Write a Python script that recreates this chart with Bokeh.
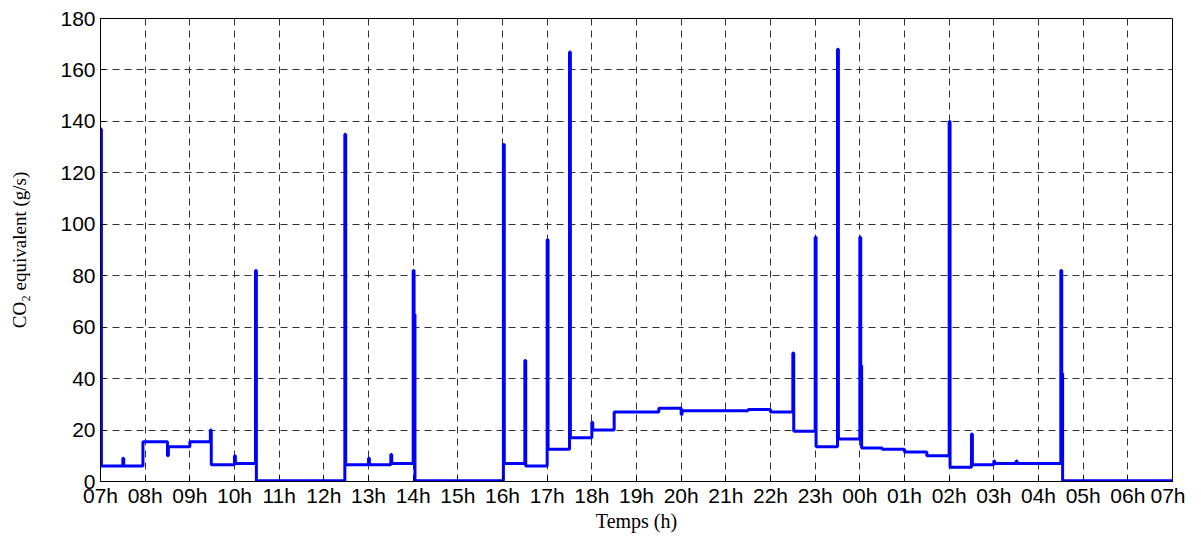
from bokeh.plotting import figure
from bokeh.models import FixedTicker, ColumnDataSource
from bokeh.embed import file_html
from bokeh.resources import INLINE

# Time in hours elapsed since 07h; emission value holds until the next change point
t_hours = [0.0, 0.02, 0.5, 0.52, 0.95, 1.5, 1.52, 2.0, 2.46, 2.48, 3.0, 3.02, 3.47, 3.49,
           5.47, 5.49, 6.0, 6.02, 6.5, 6.52, 7.0, 7.02, 7.04,
           9.02, 9.04, 9.5, 9.52, 10.0, 10.02, 10.5, 10.52, 11.0, 11.02, 11.5, 12.5,
           13.0, 13.02, 14.5, 15.0, 15.5, 15.52, 16.0, 16.02, 16.5, 16.52,
           17.0, 17.02, 17.04, 17.5, 18.0, 18.5, 19.0, 19.02, 19.5, 19.52,
           20.0, 20.02, 20.5, 20.52, 21.5, 21.52, 21.54, 24.0]
co2 = [137, 6, 9, 6, 15.5, 10, 13.5, 15.5, 20, 6.5, 10, 7, 82, 0.3,
       135, 6.5, 9, 6.5, 10.5, 7, 82, 65, 0.3,
       131, 7, 47, 6, 94, 12.5, 167, 17, 23, 20, 27, 28.5,
       26, 27.5, 28, 27, 50, 19.5, 95, 13.5, 168, 16.5,
       95, 45, 13, 12.5, 11.5, 10, 140, 5.5, 18.5, 6.5,
       8, 7, 8, 7, 82, 42, 0.3, 0.3]

hour_ticks = list(range(0, 25))
hour_labels = ["%02dh" % ((7 + h) % 24) for h in hour_ticks]
y_ticks = list(range(0, 181, 20))

src = ColumnDataSource(data=dict(t=t_hours, v=co2))

p = figure(width=1185, height=530, output_backend="svg", toolbar_location=None,
           x_range=(0, 24), y_range=(0, 180),
           frame_width=1072, frame_height=463,
           min_border_left=100, min_border_right=13, min_border_top=18, min_border_bottom=40)

p.step(x="t", y="v", source=src, mode="after", line_color="#0000FF", line_width=3)

p.xaxis.ticker = FixedTicker(ticks=hour_ticks)
p.xaxis.major_label_overrides = {h: lab for h, lab in zip(hour_ticks, hour_labels)}
p.yaxis.ticker = FixedTicker(ticks=y_ticks)

for ax in (p.xaxis, p.yaxis):
    ax.major_tick_in = 5
    ax.major_tick_out = 0
    ax.minor_tick_line_color = None
    ax.axis_line_color = "black"
    ax.major_tick_line_color = "black"
    ax.major_label_text_font = "Liberation Sans"
    ax.major_label_text_font_size = "21px"
    ax.major_label_text_color = "black"
    ax.axis_label_text_font = "Liberation Serif"
    ax.axis_label_text_font_style = "normal"
    ax.axis_label_text_color = "black"

p.xaxis.axis_label = "Temps (h)"
p.xaxis.axis_label_text_font_size = "20px"
p.xaxis.major_label_standoff = 2
p.xaxis.axis_label_standoff = 0
p.yaxis.axis_label = "CO\u2082 equivalent (g/s)"
p.yaxis.axis_label_text_font_size = "19px"
p.yaxis.major_label_standoff = 5
p.yaxis.axis_label_standoff = 27

p.grid.grid_line_color = "#333333"
p.grid.grid_line_dash = "7 5"
p.grid.grid_line_width = 1
p.outline_line_color = "black"
p.outline_line_width = 1
p.background_fill_color = "white"
p.border_fill_color = "white"

open("out.html", "w").write(file_html(p, INLINE))
